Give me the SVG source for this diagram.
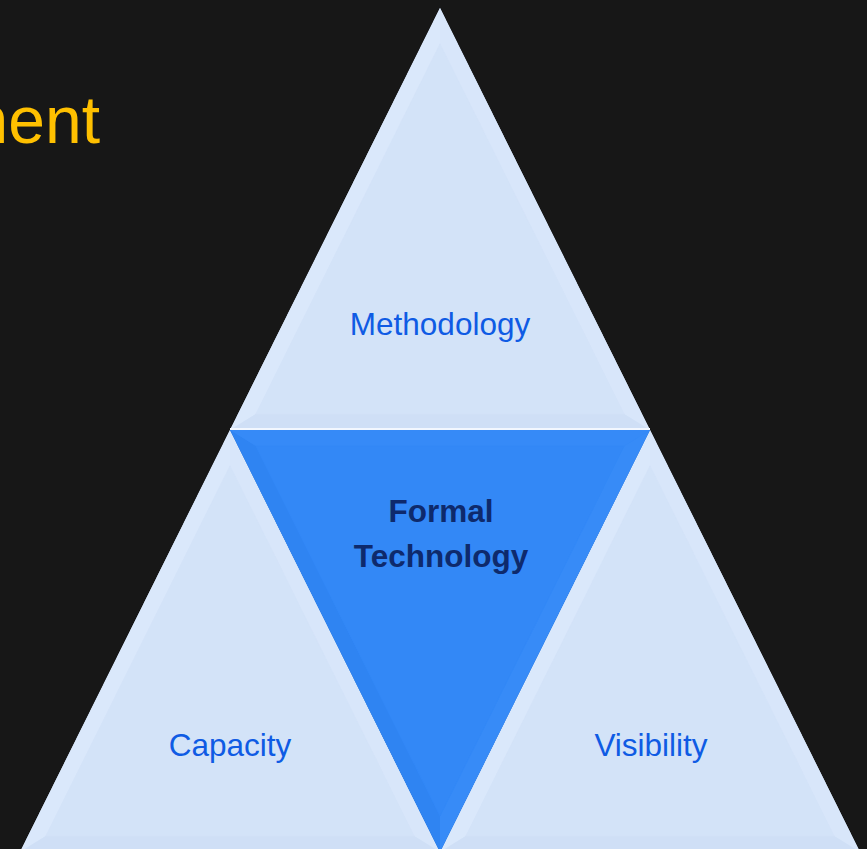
<svg xmlns="http://www.w3.org/2000/svg" xmlns:xlink="http://www.w3.org/1999/xlink" width="867" height="849" viewBox="0 0 867 849">
<style>
.lbl{font-family:"Liberation Sans",Arial,sans-serif;font-size:31.5px;fill:#0f5be4;text-anchor:middle}
.bold{font-family:"Liberation Sans",Arial,sans-serif;font-size:31.5px;font-weight:bold;fill:#0e2a6c;text-anchor:middle}
.title{font-family:"Liberation Sans",Arial,sans-serif;font-size:66px;fill:#ffc000;text-anchor:end}
.f{stroke:none}
</style>
<defs>
<g id="tri">
<polygon points="0,0 -210,422 210,422" fill="#d3e3f8"/>
<polygon class="f" points="0,0 -210,422 -184.2,406 0,35.9" fill="#dae8fb"/>
<polygon class="f" points="0,0 0,35.9 184.2,406 210,422" fill="#d8e6fa"/>
<polygon class="f" points="-210,422 210,422 184.2,406 -184.2,406" fill="#cfdff6"/>
<polygon points="0,35.9 -184.2,406 184.2,406" fill="#d3e3f8" stroke="#d3e3f8" stroke-width="0.6"/>
</g>
</defs>
<rect width="867" height="849" fill="#171717"/>
<text class="title" x="100" y="143">ment</text>
<g id="connectors"></g>
<g id="methodology">
<use xlink:href="#tri" transform="translate(440,8)"/>
<text class="lbl" x="440" y="335">Methodology</text>
</g>
<g id="capacity">
<use xlink:href="#tri" transform="translate(230,430)"/>
<text class="lbl" x="230" y="756">Capacity</text>
</g>
<g id="visibility">
<use xlink:href="#tri" transform="translate(650,430)"/>
<text class="lbl" x="651" y="756">Visibility</text>
</g>
<g id="formal-technology">
<polygon points="230,430 650,430 440,852" fill="#3388f6"/>
<polygon points="230,430 255.8,446 440,816 440,852" fill="#2f84f2"/>
<polygon points="650,430 440,852 440,816 624.2,446" fill="#378bf7"/>
<polygon points="230,430 650,430 624.2,446 255.8,446" fill="#368af7"/>
<polygon points="255.8,446 624.2,446 440,816" fill="#3388f6" stroke="#3388f6" stroke-width="0.6"/>
<line x1="230" y1="429" x2="650" y2="429" stroke="#f2f7ff" stroke-width="2"/>
<text class="bold" x="441" y="522">Formal</text>
<text class="bold" x="441" y="567">Technology</text>
</g>
</svg>
